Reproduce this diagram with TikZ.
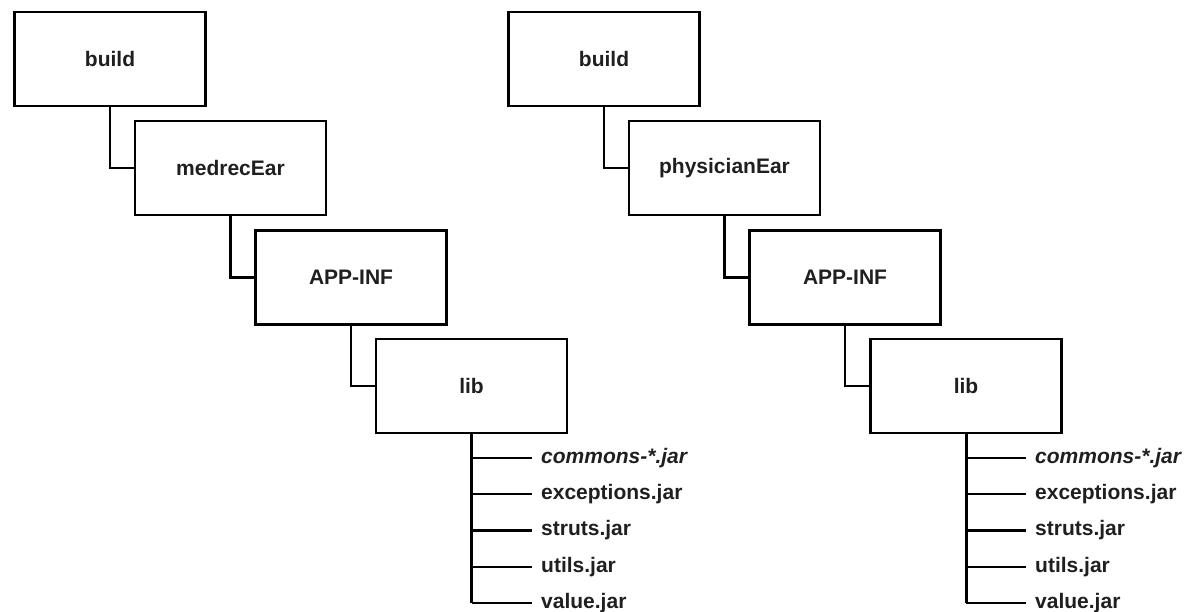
\documentclass[tikz,border=0pt]{standalone}
\usepackage{fontspec}
\setmainfont{Liberation Sans}
\begin{document}
\begin{tikzpicture}[x=1pt,y=-1pt,
  dirbox/.style={draw=black, line width=2.3pt, minimum width=191pt, minimum height=94pt, inner sep=0pt,
    font=\fontsize{21}{25}\selectfont\bfseries, text=black!88},
  conn/.style={draw=black, line width=2.3pt},
  trunk/.style={draw=black, line width=3pt},
  leaf/.style={anchor=west, inner xsep=9pt, inner ysep=0pt, font=\fontsize{21}{25}\selectfont\bfseries, text=black!88}
]
\useasboundingbox (0,0) rectangle (1202,611);
% left tree
\node[dirbox] (b1) at (110,59) {build};
\node[dirbox] (e1) at (230.5,168) {medrecEar};
\node[dirbox] (a1) at (351,277.5) {APP-INF};
\node[dirbox] (l1) at (471.5,386) {lib};
\draw[conn] (b1.south) |- (e1.west);
\draw[conn] (e1.south) |- (a1.west);
\draw[conn] (a1.south) |- (l1.west);
\node[leaf] (c1) at (532,458) {\itshape commons-*.jar};
\node[leaf] (x1) at (532,494.25) {exceptions.jar};
\node[leaf] (s1) at (532,530.5) {struts.jar};
\node[leaf] (u1) at (532,566.75) {utils.jar};
\node[leaf] (v1) at (532,603) {value.jar};
\draw[trunk] (l1.south) -- (l1.south |- v1.west);
\foreach \n in {c1,x1,s1,u1,v1} \draw[conn] (l1.south |- \n.west) -- (\n.west);
% right tree
\node[dirbox] (b2) at (604,59) {build};
\node[dirbox] (e2) at (724.5,168) {physicianEar};
\node[dirbox] (a2) at (845,277.5) {APP-INF};
\node[dirbox] (l2) at (966,386) {lib};
\draw[conn] (b2.south) |- (e2.west);
\draw[conn] (e2.south) |- (a2.west);
\draw[conn] (a2.south) |- (l2.west);
\node[leaf] (c2) at (1026,458) {\itshape commons-*.jar};
\node[leaf] (x2) at (1026,494.25) {exceptions.jar};
\node[leaf] (s2) at (1026,530.5) {struts.jar};
\node[leaf] (u2) at (1026,566.75) {utils.jar};
\node[leaf] (v2) at (1026,603) {value.jar};
\draw[trunk] (l2.south) -- (l2.south |- v2.west);
\foreach \n in {c2,x2,s2,u2,v2} \draw[conn] (l2.south |- \n.west) -- (\n.west);
\end{tikzpicture}
\end{document}
